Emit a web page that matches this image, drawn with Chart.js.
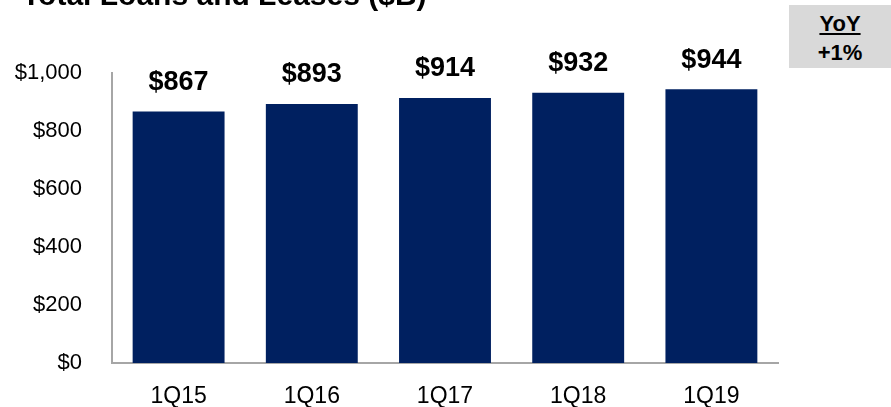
<!DOCTYPE html>
<html>
<head>
<meta charset="utf-8">
<script src="https://cdn.jsdelivr.net/npm/chart.js@4"></script>
<style>
  html, body { margin: 0; padding: 0; background: #fff; }
  #wrap { position: relative; width: 891px; height: 407px; overflow: hidden; }
  #title {
    position: absolute; left: 22px; top: -21px;
    font: bold 30px "Liberation Sans", Arial, sans-serif; line-height: 31px;
    color: #000; white-space: nowrap;
  }
  #yoy {
    position: absolute; left: 789px; top: 5px; width: 102px; height: 63px;
    background: #d9d9d9; text-align: center;
    font: bold 22px "Liberation Sans", Arial, sans-serif; color: #000;
  }
  #yoy .head { text-decoration: underline; position: absolute; left: 0; right: 0; top: 7px; line-height: 24px; }
  #yoy .val { position: absolute; left: 0; right: 0; top: 36px; line-height: 24px; }
</style>
</head>
<body>
<div id="wrap">
  <canvas id="chart" width="891" height="407"></canvas>
  <div id="title">Total Loans and Leases ($B)</div>
  <div id="yoy"><div class="head">YoY</div><div class="val">+1%</div></div>
</div>
<script>
// ==================== DATA ====================
const categories = ["1Q15", "1Q16", "1Q17", "1Q18", "1Q19"];
const loans = [867, 893, 914, 932, 944];
const yTicks = [0, 200, 400, 600, 800, 1000];

const FONT = '"Liberation Sans", Arial, sans-serif';

function money(v) {
  return "$" + v.toLocaleString("en-US");
}

// value labels above each bar
const barLabels = {
  id: "barLabels",
  afterDatasetsDraw(chart) {
    const ctx = chart.ctx;
    const meta = chart.getDatasetMeta(0);
    ctx.save();
    ctx.font = "bold 27px " + FONT;
    ctx.fillStyle = "#000";
    ctx.textAlign = "center";
    ctx.textBaseline = "middle";
    meta.data.forEach((bar, i) => {
      ctx.fillText(money(loans[i]), bar.x, bar.y - 29);
    });
    ctx.restore();
  },
};

new Chart(document.getElementById("chart"), {
  type: "bar",
  data: {
    labels: categories,
    datasets: [
      {
        data: loans,
        backgroundColor: "#002060",
        borderWidth: 0,
        barPercentage: 0.69,
        categoryPercentage: 1.0,
      },
    ],
  },
  options: {
    responsive: false,
    animation: false,
    layout: { padding: { top: 73, right: 113, bottom: 0, left: 0 } },
    plugins: {
      legend: { display: false },
      tooltip: { enabled: false },
    },
    scales: {
      x: {
        grid: { display: false },
        border: { display: true, color: "#a6a6a6", width: 2 },
        ticks: { color: "#000", font: { family: FONT, size: 23 }, padding: 12 },
        afterFit(scale) {
          scale.height = 44;
        },
      },
      y: {
        min: 0,
        max: 1000,
        afterBuildTicks(scale) {
          scale.ticks = yTicks.map((v) => ({ value: v }));
        },
        grid: { display: false },
        border: { display: true, color: "#a6a6a6", width: 2 },
        ticks: {
          color: "#000",
          font: { family: FONT, size: 22 },
          padding: 22,
          callback: (v) => money(v),
        },
        afterFit(scale) {
          scale.width = 112;
        },
      },
    },
  },
  plugins: [barLabels],
});
</script>
</body>
</html>
